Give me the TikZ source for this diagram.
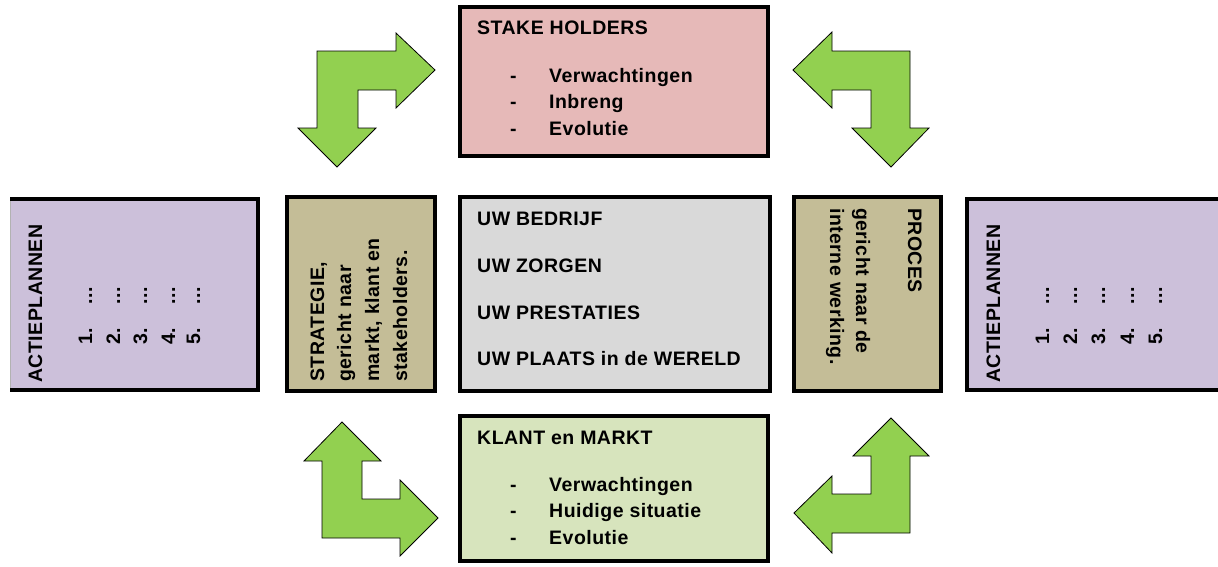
\documentclass[tikz,border=0pt]{standalone}
\usepackage{fontspec}
\setmainfont[LetterSpace=2.5]{Liberation Sans}
\definecolor{arrowgreen}{HTML}{92D050}
\definecolor{stakepink}{HTML}{E6B9B8}
\definecolor{klantgreen}{HTML}{D7E4BD}
\definecolor{actiepurple}{HTML}{CCC0DA}
\definecolor{stratkhaki}{HTML}{C4BD97}
\definecolor{centergray}{HTML}{D9D9D9}
\begin{document}
\begin{tikzpicture}[x=1pt,y=-1pt,
  boxline/.style={line width=3.5pt, draw=black, line join=miter},
  garrow/.style={fill=arrowgreen, draw=black, line width=0.8pt, line join=miter},
  txt/.style={inner sep=0pt, anchor=base west, font=\fontsize{19.5}{24}\selectfont\bfseries},
  vup/.style={txt, rotate=90},
  vdown/.style={txt, rotate=-90}]
\clip (0,0) rectangle (1218,566);
\fill[white] (0,0) rectangle (1218,566);

% boxes
\fill[actiepurple] (10,199) rectangle (258,390);
\draw[gray!60, line width=0.8pt] (10,199) -- (10,390);
\draw[boxline] (10,199) -- (258,199) -- (258,390) -- (10,390);
\draw[boxline, fill=stratkhaki] (287,197) rectangle (435,391);
\draw[boxline, fill=centergray] (460,197) rectangle (770,391);
\draw[boxline, fill=stratkhaki] (794,197) rectangle (941,391);
\draw[boxline, fill=actiepurple] (967,199) rectangle (1230,390);
\draw[boxline, fill=stakepink] (460,7) rectangle (768,156);
\draw[boxline, fill=klantgreen] (460,416) rectangle (768,561);

% arrows
\draw[garrow] (317,51) -- (396,51) -- (396,33) -- (435,70) -- (396,108) -- (396,90)
  -- (358,90) -- (358,128) -- (376,128) -- (337,167) -- (298,128) -- (317,128) -- cycle;
\draw[garrow] (910,51) -- (832,51) -- (832,32) -- (793,70) -- (832,108) -- (832,90)
  -- (871,90) -- (871,128) -- (852,128) -- (891,167) -- (929,128) -- (910,128) -- cycle;
\draw[garrow] (322,538) -- (400,538) -- (400,556) -- (438,518) -- (400,480) -- (400,499)
  -- (362,499) -- (362,461) -- (381,461) -- (342,422) -- (304,461) -- (322,461) -- cycle;
\draw[garrow] (910,533) -- (832,533) -- (832,553) -- (794,513) -- (832,476) -- (832,494)
  -- (871,494) -- (871,456) -- (853,456) -- (891,418) -- (929,456) -- (910,456) -- cycle;

% stake holders
\node[txt] (sh) at (477,34) {STAKE HOLDERS};
\node[txt] (shd1) at (510,82) {-};
\node[txt] (shd2) at (510,108) {-};
\node[txt] (shd3) at (510,135) {-};
\node[txt] (sh1) at (549,82) {Verwachtingen};
\node[txt] (sh2) at (549,108) {Inbreng};
\node[txt] (sh3) at (549,135) {Evolutie};

% klant en markt
\node[txt] (km) at (477,444) {KLANT en MARKT};
\node[txt] (kmd1) at (510,491) {-};
\node[txt] (kmd2) at (510,517) {-};
\node[txt] (kmd3) at (510,544) {-};
\node[txt] (km1) at (549,491) {Verwachtingen};
\node[txt] (km2) at (549,517) {Huidige situatie};
\node[txt] (km3) at (549,544) {Evolutie};

% center
\node[txt] (c1) at (477,225) {UW BEDRIJF};
\node[txt] (c2) at (477,272) {UW ZORGEN};
\node[txt] (c3) at (477,319) {UW PRESTATIES};
\node[txt] (c4) at (477,365) {UW PLAATS in de WERELD};

% strategie
\node[vup] (s1) at (324,382) {STRATEGIE,};
\node[vup] (s2) at (351,382) {gericht naar};
\node[vup] (s3) at (379,382) {markt, klant en};
\node[vup] (s4) at (407,382) {stakeholders.};

% proces
\node[vdown] (p1) at (908,208) {PROCES};
\node[vdown] (p2) at (856,208) {gericht naar de};
\node[vdown] (p3) at (830,208) {interne werking.};

% actieplannen left
\node[vup] (la) at (42,383) {ACTIEPLANNEN};
\node[vup] (l1) at (92,345) {\makebox[40pt][l]{1.}...};
\node[vup] (l2) at (120,345) {\makebox[40pt][l]{2.}...};
\node[vup] (l3) at (147,345) {\makebox[40pt][l]{3.}...};
\node[vup] (l4) at (175,345) {\makebox[40pt][l]{4.}...};
\node[vup] (l5) at (200,345) {\makebox[40pt][l]{5.}...};

% actieplannen right
\node[vup] (ra) at (1000,383) {ACTIEPLANNEN};
\node[vup] (r1) at (1049,345) {\makebox[40pt][l]{1.}...};
\node[vup] (r2) at (1077,345) {\makebox[40pt][l]{2.}...};
\node[vup] (r3) at (1105,345) {\makebox[40pt][l]{3.}...};
\node[vup] (r4) at (1134,345) {\makebox[40pt][l]{4.}...};
\node[vup] (r5) at (1162,345) {\makebox[40pt][l]{5.}...};
\end{tikzpicture}
\end{document}
